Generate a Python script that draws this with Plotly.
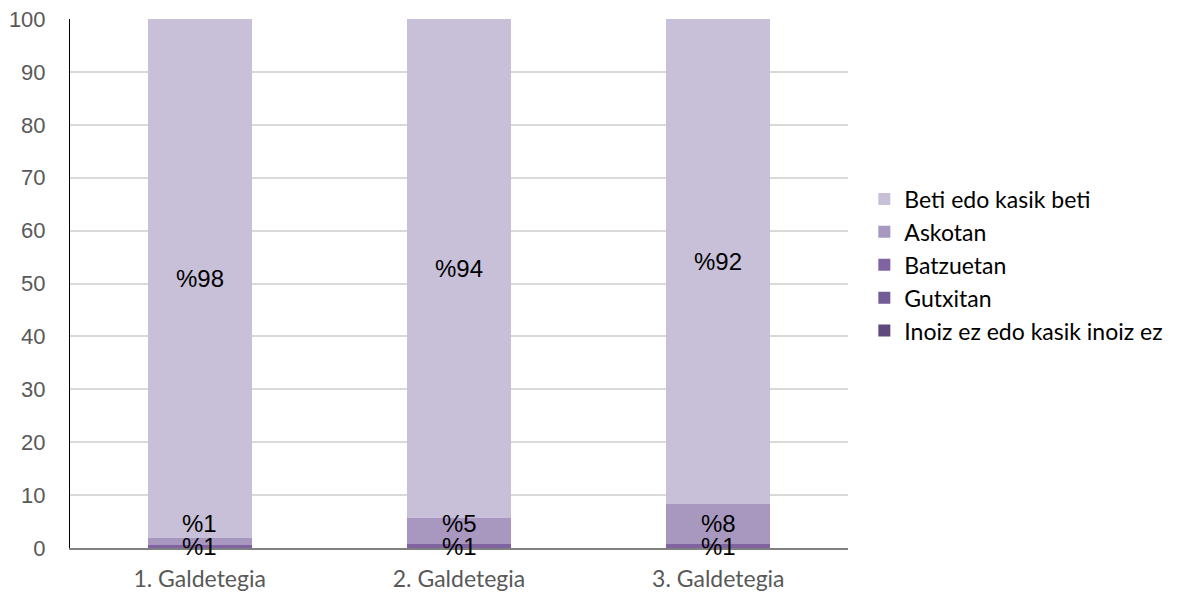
import plotly.graph_objects as go

categories = ["1. Galdetegia", "2. Galdetegia", "3. Galdetegia"]
series_names = ["Inoiz ez edo kasik inoiz ez", "Gutxitan", "Batzuetan", "Askotan", "Beti edo kasik beti"]
inoiz = [0.0, 0.0, 0.0]
gutxitan = [0.0, 0.0, 0.0]
batzuetan = [0.6, 0.7, 0.7]
askotan = [1.2, 4.9, 7.6]
beti = [98.2, 94.4, 91.7]
colors = ["#5f4a7e", "#735b96", "#8064a2", "#a898c0", "#c8c0d8"]
y_ticks = [0, 10, 20, 30, 40, 50, 60, 70, 80, 90, 100]

series = [inoiz, gutxitan, batzuetan, askotan, beti]

fig = go.Figure()
for name, vals, col in zip(series_names, series, colors):
    fig.add_trace(go.Bar(x=categories, y=vals, name=name, marker=dict(color=col, line=dict(width=0)),
                         width=0.4))

# labels
ann = []
for i, c in enumerate(categories):
    base = 0.0
    for j, vals in enumerate(series):
        v = vals[i]
        if v > 0:
            center = base + v / 2
            if j == 3:
                center = max(center, base + 4.0)
            ann.append(dict(x=c, y=center, text="%" + str(int(round(v))), showarrow=False,
                            font=dict(family="Liberation Sans, Arial", size=24, color="#000000"),
                            yanchor="middle", xanchor="center"))
        base += v

fig.update_layout(
    barmode="stack",
    width=1180, height=596,
    paper_bgcolor="white", plot_bgcolor="white",
    margin=dict(l=70, r=332, t=19, b=48),
    annotations=ann,
    showlegend=True,
    legend=dict(x=1.021, y=0.535, xanchor="left", yanchor="middle", traceorder="reversed",
                font=dict(family="Lato, Open Sans, sans-serif", size=23, color="#000000"),
                itemwidth=30, tracegroupgap=0),
    bargap=0.6,
)
fig.update_xaxes(showline=True, linecolor="#808080", linewidth=1.5, ticks="", automargin=False,
                 tickfont=dict(family="Lato, Open Sans, sans-serif", size=23, color="#595959"),
                 ticklabelstandoff=10)
fig.update_yaxes(range=[0, 100], tickvals=y_ticks, showgrid=True, gridcolor="#d9d9d9", gridwidth=2,
                 showline=True, linecolor="#000000", linewidth=1, zeroline=False, automargin=False,
                 tickfont=dict(family="Liberation Sans, Arial", size=22, color="#595959"), ticklen=0,
                 ticks="", ticklabelstandoff=19)

fig.write_html("out.html", config={"displayModeBar": False},
               post_script="document.body.style.margin='0';document.body.style.overflow='hidden';")
